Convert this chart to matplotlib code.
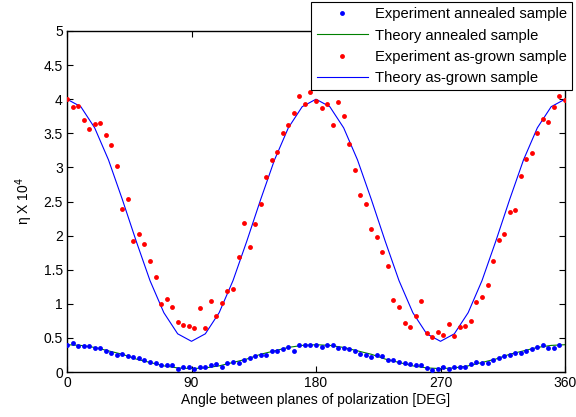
import numpy as np
import matplotlib
matplotlib.use("Agg")
import matplotlib.pyplot as plt

plt.rcParams['font.family'] = ['Liberation Sans', 'DejaVu Sans']

# Experimental as-grown sample (red), every 4 degrees
asgrown_angle = list(range(0, 361, 4))
asgrown_eta = [4.00, 3.88, 3.90, 3.70, 3.57, 3.64, 3.65, 3.47, 3.33, 3.02,
               2.39, 2.54, 1.92, 2.03, 1.88, 1.63, 1.39, 0.99, 1.07, 0.96,
               0.74, 0.69, 0.67, 0.65, 0.94, 0.65, 1.04, 0.82, 1.01, 1.19,
               1.22, 1.68, 2.18, 1.83, 2.17, 2.47, 2.86, 3.11, 3.22, 3.50,
               3.62, 3.80, 4.04, 3.93, 4.10, 3.97, 3.87, 3.93, 3.62, 3.96,
               3.75, 3.35, 2.96, 2.59, 2.47, 2.09, 1.98, 1.76, 1.56, 1.06,
               0.96, 0.72, 0.66, 0.82, 1.04, 0.57, 0.52, 0.59, 0.54, 0.70,
               0.53, 0.66, 0.67, 0.75, 1.02, 1.10, 1.28, 1.63, 1.94, 2.02,
               2.34, 2.37, 2.88, 3.13, 3.21, 3.50, 3.71, 3.67, 3.89, 4.05,
               3.99]

# Experimental annealed sample (blue), every 4 degrees
annealed_angle = list(range(0, 357, 4))
annealed_eta = [0.40, 0.42, 0.38, 0.38, 0.38, 0.35, 0.35, 0.31, 0.28, 0.25,
                0.27, 0.23, 0.22, 0.20, 0.17, 0.15, 0.13, 0.10, 0.10, 0.10,
                0.05, 0.08, 0.07, 0.04, 0.07, 0.08, 0.10, 0.12, 0.08, 0.13,
                0.15, 0.13, 0.18, 0.20, 0.23, 0.25, 0.25, 0.31, 0.31, 0.34,
                0.36, 0.31, 0.39, 0.40, 0.40, 0.39, 0.37, 0.40, 0.40, 0.35,
                0.35, 0.34, 0.31, 0.27, 0.25, 0.22, 0.25, 0.24, 0.18, 0.17,
                0.15, 0.13, 0.12, 0.10, 0.10, 0.06, 0.03, 0.05, 0.07, 0.05,
                0.07, 0.08, 0.08, 0.12, 0.15, 0.13, 0.13, 0.17, 0.21, 0.23,
                0.25, 0.28, 0.28, 0.31, 0.34, 0.37, 0.39, 0.35, 0.35, 0.39]

# Theory curves, every 10 degrees
theory_angle = list(range(0, 361, 10))
theory_annealed = [0.40, 0.39, 0.36, 0.31, 0.26, 0.19, 0.14, 0.09, 0.06, 0.05,
                   0.06, 0.09, 0.14, 0.19, 0.26, 0.31, 0.36, 0.39, 0.40,
                   0.39, 0.36, 0.31, 0.26, 0.19, 0.14, 0.09, 0.06, 0.05,
                   0.06, 0.09, 0.14, 0.19, 0.26, 0.31, 0.36, 0.39, 0.40]
theory_asgrown = [4.00, 3.89, 3.58, 3.11, 2.53, 1.92, 1.34, 0.87, 0.56, 0.45,
                  0.56, 0.87, 1.34, 1.92, 2.53, 3.11, 3.58, 3.89, 4.00,
                  3.89, 3.58, 3.11, 2.53, 1.92, 1.34, 0.87, 0.56, 0.45,
                  0.56, 0.87, 1.34, 1.92, 2.53, 3.11, 3.58, 3.89, 4.00]

xticks = [0, 90, 180, 270, 360]
yticks = [0, 0.5, 1, 1.5, 2, 2.5, 3, 3.5, 4, 4.5, 5]
ytick_labels = ['0', '0.5', '1', '1.5', '2', '2.5', '3', '3.5', '4', '4.5', '5']

fig = plt.figure(figsize=(5.76, 4.17), dpi=100)
ax = fig.add_axes([67/576, 45/417, 498/576, 341/417])

ms = 3.5
h1, = ax.plot(annealed_angle, annealed_eta, 'o', color=(0, 0, 1), markersize=ms,
              markeredgewidth=0, label='Experiment annealed sample', zorder=3)
h2, = ax.plot(theory_angle, theory_annealed, '-', color=(0, 0.5, 0), linewidth=0.8,
              label='Theory annealed sample', zorder=2)
h3, = ax.plot(asgrown_angle, asgrown_eta, 'o', color=(1, 0, 0), markersize=ms,
              markeredgewidth=0, label='Experiment as-grown sample', zorder=3)
h4, = ax.plot(theory_angle, theory_asgrown, '-', color=(0, 0, 1), linewidth=0.8,
              label='Theory as-grown sample', zorder=2)

ax.set_xlim(0, 360)
ax.set_ylim(0, 5)
ax.set_xticks(xticks)
ax.set_xticklabels([str(t) for t in xticks])
ax.set_yticks(yticks)
ax.set_yticklabels(ytick_labels)
ax.tick_params(direction='in', length=4, width=0.8, top=True, right=True,
               labelsize=10, pad=3, colors='black')
for s in ax.spines.values():
    s.set_linewidth(1.0)
    s.set_color('black')

ax.set_xlabel('Angle between planes of polarization [DEG]', fontsize=10, labelpad=2)
ax.set_ylabel('η X 10$^4$', fontsize=10, labelpad=6)

leg = fig.legend(handles=[h1, h2, h3, h4], loc='upper right',
                 bbox_to_anchor=(572/576, 1 - 2/417), fontsize=10.6,
                 frameon=True, fancybox=False, edgecolor='black',
                 framealpha=1, numpoints=1, handlelength=3.5,
                 borderpad=0.35, labelspacing=0.5, handletextpad=0.45,
                 borderaxespad=0)
leg.get_frame().set_linewidth(0.8)

fig.savefig('out.png', dpi=100)
